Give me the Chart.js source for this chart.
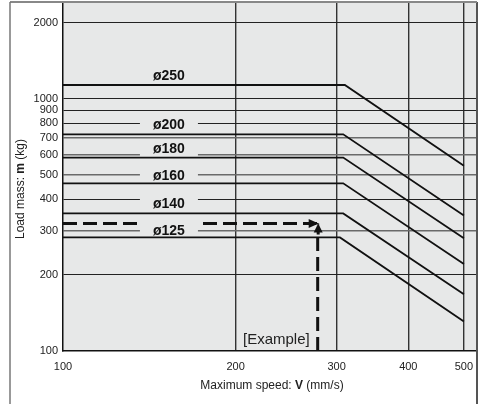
<!DOCTYPE html>
<html>
<head>
<meta charset="utf-8">
<script src="https://cdn.jsdelivr.net/npm/chart.js@4/dist/chart.umd.min.js"></script>
<style>
html,body{margin:0;padding:0;background:#fff;}
canvas{display:block;}
</style>
</head>
<body>
<canvas id="c" width="482" height="404"></canvas>
<script>
// ---- data ----
const speedTicks = [100, 200, 300, 400, 500];
const massTicks = [100, 200, 300, 400, 500, 600, 700, 800, 900, 1000, 2000];
const boreLabels = ['ø250', 'ø200', 'ø180', 'ø160', 'ø140', 'ø125'];
const kneeSpeed = [310, 308, 308, 308, 308, 304];
const flatMass = [1133, 722, 584, 462, 351, 282];
const endSpeed = [500, 500, 500, 500, 500, 500];
const endMass = [542, 344, 280, 221, 168, 131];
const labelMass = [1234, 791, 635, 498, 385, 302];
const labelSpeed = 153;
const exampleSpeed = 278;
const exampleMass = 320;
const speedRange = [100, 527];
const massRange = [100, 2416];

const FONT = '"Liberation Sans", Arial, Helvetica, sans-serif';
const PLOT_BG = '#e7e8e8';
const darkMass = [200, 400, 800, 900, 1000, 2000];

const seriesSets = boreLabels.map((name, i) => ({
  label: name,
  data: [
    {x: speedTicks[0], y: flatMass[i]},
    {x: kneeSpeed[i], y: flatMass[i]},
    {x: endSpeed[i], y: endMass[i]}
  ],
  showLine: true,
  borderColor: '#111',
  borderWidth: 1.8,
  pointRadius: 0,
  fill: false,
  tension: 0
}));

const exampleSets = [
  {
    label: 'exH',
    data: [{x: speedTicks[0], y: exampleMass}, {x: exampleSpeed, y: exampleMass}],
    showLine: true, borderColor: '#111', borderWidth: 3, borderDash: [14, 6],
    pointRadius: 0, fill: false
  },
  {
    label: 'exV',
    data: [{x: exampleSpeed, y: massTicks[0]}, {x: exampleSpeed, y: exampleMass}],
    showLine: true, borderColor: '#111', borderWidth: 3, borderDash: [14, 6],
    pointRadius: 0, fill: false
  }
];

const decoPlugin = {
  id: 'deco',
  beforeDraw(chart) {
    const {ctx, chartArea: a} = chart;
    ctx.save();
    ctx.fillStyle = '#fff';
    ctx.fillRect(0, 0, chart.width, chart.height);
    ctx.fillStyle = PLOT_BG;
    ctx.fillRect(a.left, a.top, a.right - a.left, a.bottom - a.top);
    ctx.restore();
  },
  afterDatasetDraw(chart, args) {
    if (args.index !== 6) return;
    const {ctx} = chart;
    const xs = chart.scales.x, ys = chart.scales.y;
    ctx.save();
    ctx.font = 'bold 14px ' + FONT;
    ctx.textAlign = 'center';
    ctx.textBaseline = 'middle';
    boreLabels.forEach((t, i) => {
      const px = xs.getPixelForValue(labelSpeed);
      const py = ys.getPixelForValue(labelMass[i]);
      ctx.fillStyle = PLOT_BG;
      ctx.fillRect(px - 29, py - 8, 58, 16);
      ctx.fillStyle = '#111';
      ctx.fillText(t, px, py + 1);
    });
    ctx.restore();
  },
  afterDraw(chart) {
    const {ctx, chartArea: a} = chart;
    const xs = chart.scales.x, ys = chart.scales.y;
    ctx.save();
    // arrowheads
    const ex = xs.getPixelForValue(exampleSpeed);
    const ey = ys.getPixelForValue(exampleMass);
    ctx.fillStyle = '#111';
    ctx.beginPath();
    ctx.moveTo(ex + 1, ey);
    ctx.lineTo(ex - 9, ey - 4.5);
    ctx.lineTo(ex - 9, ey + 4.5);
    ctx.closePath();
    ctx.fill();
    ctx.fillStyle = PLOT_BG;
    ctx.fillRect(ex - 1.6, ey + 1, 3.2, 8);
    ctx.fillStyle = '#111';
    ctx.beginPath();
    ctx.moveTo(ex + 0.5, ey);
    ctx.lineTo(ex - 4, ey + 9);
    ctx.lineTo(ex + 5, ey + 9);
    ctx.closePath();
    ctx.fill();
    ctx.fillRect(ex - 1, ey + 8, 3, 3);

    // example text
    ctx.font = '15px ' + FONT;
    ctx.textAlign = 'right';
    ctx.textBaseline = 'middle';
    ctx.fillStyle = '#222';
    ctx.fillText('[Example]', ex - 8, a.bottom - 11);

    // plot frame top/right
    ctx.strokeStyle = '#555';
    ctx.lineWidth = 2;
    ctx.beginPath();
    ctx.moveTo(a.right, a.top);
    ctx.lineTo(a.right, chart.height);
    ctx.stroke();
    ctx.strokeStyle = '#888';
    ctx.lineWidth = 2;
    ctx.beginPath();
    ctx.moveTo(10, a.top);
    ctx.lineTo(a.right, a.top);
    ctx.stroke();
    // outer frame left
    ctx.strokeStyle = '#777';
    ctx.lineWidth = 1.5;
    ctx.beginPath();
    ctx.moveTo(10, a.top);
    ctx.lineTo(10, chart.height);
    ctx.stroke();

    // x axis title
    ctx.fillStyle = '#222';
    ctx.textBaseline = 'middle';
    ctx.textAlign = 'left';
    const p1 = 'Maximum speed: ', p2 = 'V', p3 = ' (mm/s)';
    ctx.font = '12px ' + FONT;
    const w1 = ctx.measureText(p1).width, w3 = ctx.measureText(p3).width;
    ctx.font = 'bold 12px ' + FONT;
    const w2 = ctx.measureText(p2).width;
    let sx = 272 - (w1 + w2 + w3) / 2;
    const ty = 386;
    ctx.font = '12px ' + FONT; ctx.fillText(p1, sx, ty); sx += w1;
    ctx.font = 'bold 12px ' + FONT; ctx.fillText(p2, sx, ty); sx += w2;
    ctx.font = '12px ' + FONT; ctx.fillText(p3, sx, ty);

    // y axis title
    ctx.translate(21, 189);
    ctx.rotate(-Math.PI / 2);
    const q1 = 'Load mass: ', q2 = 'm', q3 = ' (kg)';
    ctx.font = '12px ' + FONT;
    const v1 = ctx.measureText(q1).width, v3 = ctx.measureText(q3).width;
    ctx.font = 'bold 12px ' + FONT;
    const v2 = ctx.measureText(q2).width;
    let sy = -(v1 + v2 + v3) / 2;
    ctx.font = '12px ' + FONT; ctx.fillText(q1, sy, 0); sy += v1;
    ctx.font = 'bold 12px ' + FONT; ctx.fillText(q2, sy, 0); sy += v2;
    ctx.font = '12px ' + FONT; ctx.fillText(q3, sy, 0);
    ctx.restore();
  }
};

new Chart(document.getElementById('c'), {
  type: 'scatter',
  data: {datasets: seriesSets.concat(exampleSets)},
  options: {
    responsive: false,
    animation: false,
    devicePixelRatio: 1,
    layout: {padding: {left: 0, top: 2, right: 5, bottom: 0}},
    plugins: {legend: {display: false}, tooltip: {enabled: false}},
    scales: {
      x: {
        type: 'logarithmic',
        min: speedRange[0], max: speedRange[1],
        afterBuildTicks: s => { s.ticks = speedTicks.map(v => ({value: v})); },
        afterFit: s => { s.height = 53; s.paddingLeft = 0; s.paddingRight = 0; },
        ticks: {
          autoSkip: false, maxRotation: 0, padding: 9,
          color: '#222', font: {family: FONT, size: 11},
          callback: v => String(v)
        },
        grid: {
          drawTicks: false,
          color: c => (c.tick && c.tick.value === speedTicks[0]) ? 'rgba(0,0,0,0)' : '#333',
          lineWidth: 1.4
        },
        border: {display: true, color: '#111', width: 1.5}
      },
      y: {
        type: 'logarithmic',
        min: massRange[0], max: massRange[1],
        afterBuildTicks: s => { s.ticks = massTicks.map(v => ({value: v})); },
        afterFit: s => { s.width = 63; s.paddingTop = 0; s.paddingBottom = 0; },
        ticks: {
          autoSkip: false, padding: 5,
          color: '#222', font: {family: FONT, size: 11},
          callback: v => String(v)
        },
        grid: {
          drawTicks: false,
          color: c => {
            if (!c.tick) return '#555';
            if (c.tick.value === massTicks[0]) return 'rgba(0,0,0,0)';
            return darkMass.includes(c.tick.value) ? '#222' : '#6a6a6a';
          },
          lineWidth: c => (c.tick && darkMass.includes(c.tick.value)) ? 1.1 : 1.6
        },
        border: {display: true, color: '#111', width: 1.5}
      }
    }
  },
  plugins: [decoPlugin]
});
</script>
</body>
</html>
